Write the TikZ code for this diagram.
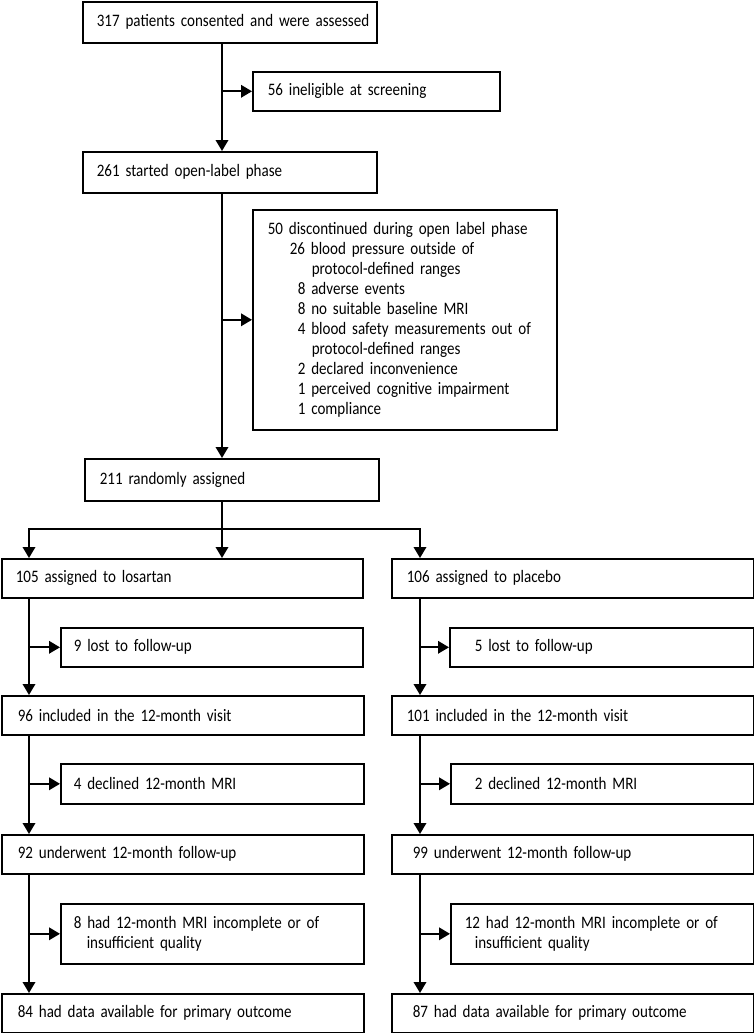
\documentclass[tikz,border=0pt]{standalone}
\usepackage{fontspec}
\setmainfont{Carlito}[FakeStretch=0.86]
\usetikzlibrary{arrows.meta}
\newcommand\bx[7]{%
  \pgfmathsetmacro\bw{#4-#2}%
  \pgfmathsetmacro\bh{#5-#3}%
  \pgfmathsetmacro\bp{#6-#2}%
  \pgfmathsetmacro\tw{#4-#2-2*(#6-#2)}%
  \node[box, minimum width=\bw pt, minimum height=\bh pt, inner xsep=\bp pt, text width=\tw pt] (#1) at (#2,#3) {#7};}
\newcommand\Lin[2]{\mbox{\hspace*{#1pt}#2}}
\begin{document}
\begin{tikzpicture}[x=1pt,y=-1pt,
  box/.style={draw, line width=1.6pt, anchor=north west, inner ysep=0pt, align=left,
    font=\fontsize{17.5}{20}\selectfont},
  conn/.style={line width=1.9pt},
  arr/.style={conn, -{Triangle[length=11pt,width=12.5pt]}}]
\useasboundingbox (0,0) rectangle (754,1033);
\bx{b317}{82}{1}{376}{42}{96}{\Lin{0}{317 patients consented and were assessed}}
\bx{b56}{252}{71}{499}{110}{267}{\Lin{0}{56 ineligible at screening}}
\bx{b261}{82}{151}{376}{192}{96}{\Lin{0}{261 started open-label phase}}
\bx{b50}{252}{209}{556}{429}{267}{\Lin{0}{50 discontinued during open label phase}\\
  \Lin{22}{26 blood pressure outside of}\\
  \Lin{44}{protocol-defined ranges}\\
  \Lin{30}{8 adverse events}\\
  \Lin{30}{8 no suitable baseline MRI}\\
  \Lin{30}{4 blood safety measurements out of}\\
  \Lin{44}{protocol-defined ranges}\\
  \Lin{30}{2 declared inconvenience}\\
  \Lin{30}{1 perceived cognitive impairment}\\
  \Lin{30}{1 compliance}}
\bx{b211}{84}{458}{378}{500}{99}{\Lin{0}{211 randomly assigned}}
\bx{b105}{1}{558}{362}{597}{15}{\Lin{0}{105 assigned to losartan}}
\bx{b106}{391}{558}{753}{597}{406}{\Lin{0}{106 assigned to placebo}}
\bx{b9}{60}{627}{362}{666}{73}{\Lin{0}{9 lost to follow-up}}
\bx{b5}{449}{627}{753}{666}{474}{\Lin{0}{5 lost to follow-up}}
\bx{b96}{1}{695}{363}{734}{17}{\Lin{0}{96 included in the 12-month visit}}
\bx{b101}{391}{695}{753}{734}{406}{\Lin{0}{101 included in the 12-month visit}}
\bx{b4}{60}{763}{363}{803}{73}{\Lin{0}{4 declined 12-month MRI}}
\bx{b2}{450}{763}{753}{803}{474}{\Lin{0}{2 declined 12-month MRI}}
\bx{b92}{1}{834}{363}{873}{17}{\Lin{0}{92 underwent 12-month follow-up}}
\bx{b99}{391}{834}{753}{873}{412}{\Lin{0}{99 underwent 12-month follow-up}}
\bx{b8}{60}{903}{363}{963}{73}{\Lin{0}{8 had 12-month MRI incomplete or of}\\\Lin{13}{insufficient quality}}
\bx{b12}{450}{903}{753}{963}{464}{\Lin{0}{12 had 12-month MRI incomplete or of}\\\Lin{10}{insufficient quality}}
\bx{b84}{1}{993}{363}{1032}{17}{\Lin{0}{84 had data available for primary outcome}}
\bx{b87}{391}{993}{753}{1032}{412}{\Lin{0}{87 had data available for primary outcome}}
\coordinate (C) at (222,0);
\coordinate (L) at (29,0);
\coordinate (R) at (420,0);
\coordinate (S) at (222,529);
% top trunk
\draw[arr] (b317.south -| C) -- (b261.north -| C);
\draw[arr] (b56.west -| C) -- (b56.west);
\draw[arr] (b261.south -| C) -- (b211.north -| C);
\draw[arr] (b50.west -| C) -- (b50.west);
% split
\draw[arr] (b211.south -| C) -- (b105.north -| C);
\draw[arr] (S) -| (b105.north -| L);
\draw[arr] (S) -| (b106.north -| R);
% left column
\draw[arr] (b105.south -| L) -- (b96.north -| L);
\draw[arr] (b9.west -| L) -- (b9.west);
\draw[arr] (b96.south -| L) -- (b92.north -| L);
\draw[arr] (b4.west -| L) -- (b4.west);
\draw[arr] (b92.south -| L) -- (b84.north -| L);
\draw[arr] (b8.west -| L) -- (b8.west);
% right column
\draw[arr] (b106.south -| R) -- (b101.north -| R);
\draw[arr] (b5.west -| R) -- (b5.west);
\draw[arr] (b101.south -| R) -- (b99.north -| R);
\draw[arr] (b2.west -| R) -- (b2.west);
\draw[arr] (b99.south -| R) -- (b87.north -| R);
\draw[arr] (b12.west -| R) -- (b12.west);
\end{tikzpicture}
\end{document}
